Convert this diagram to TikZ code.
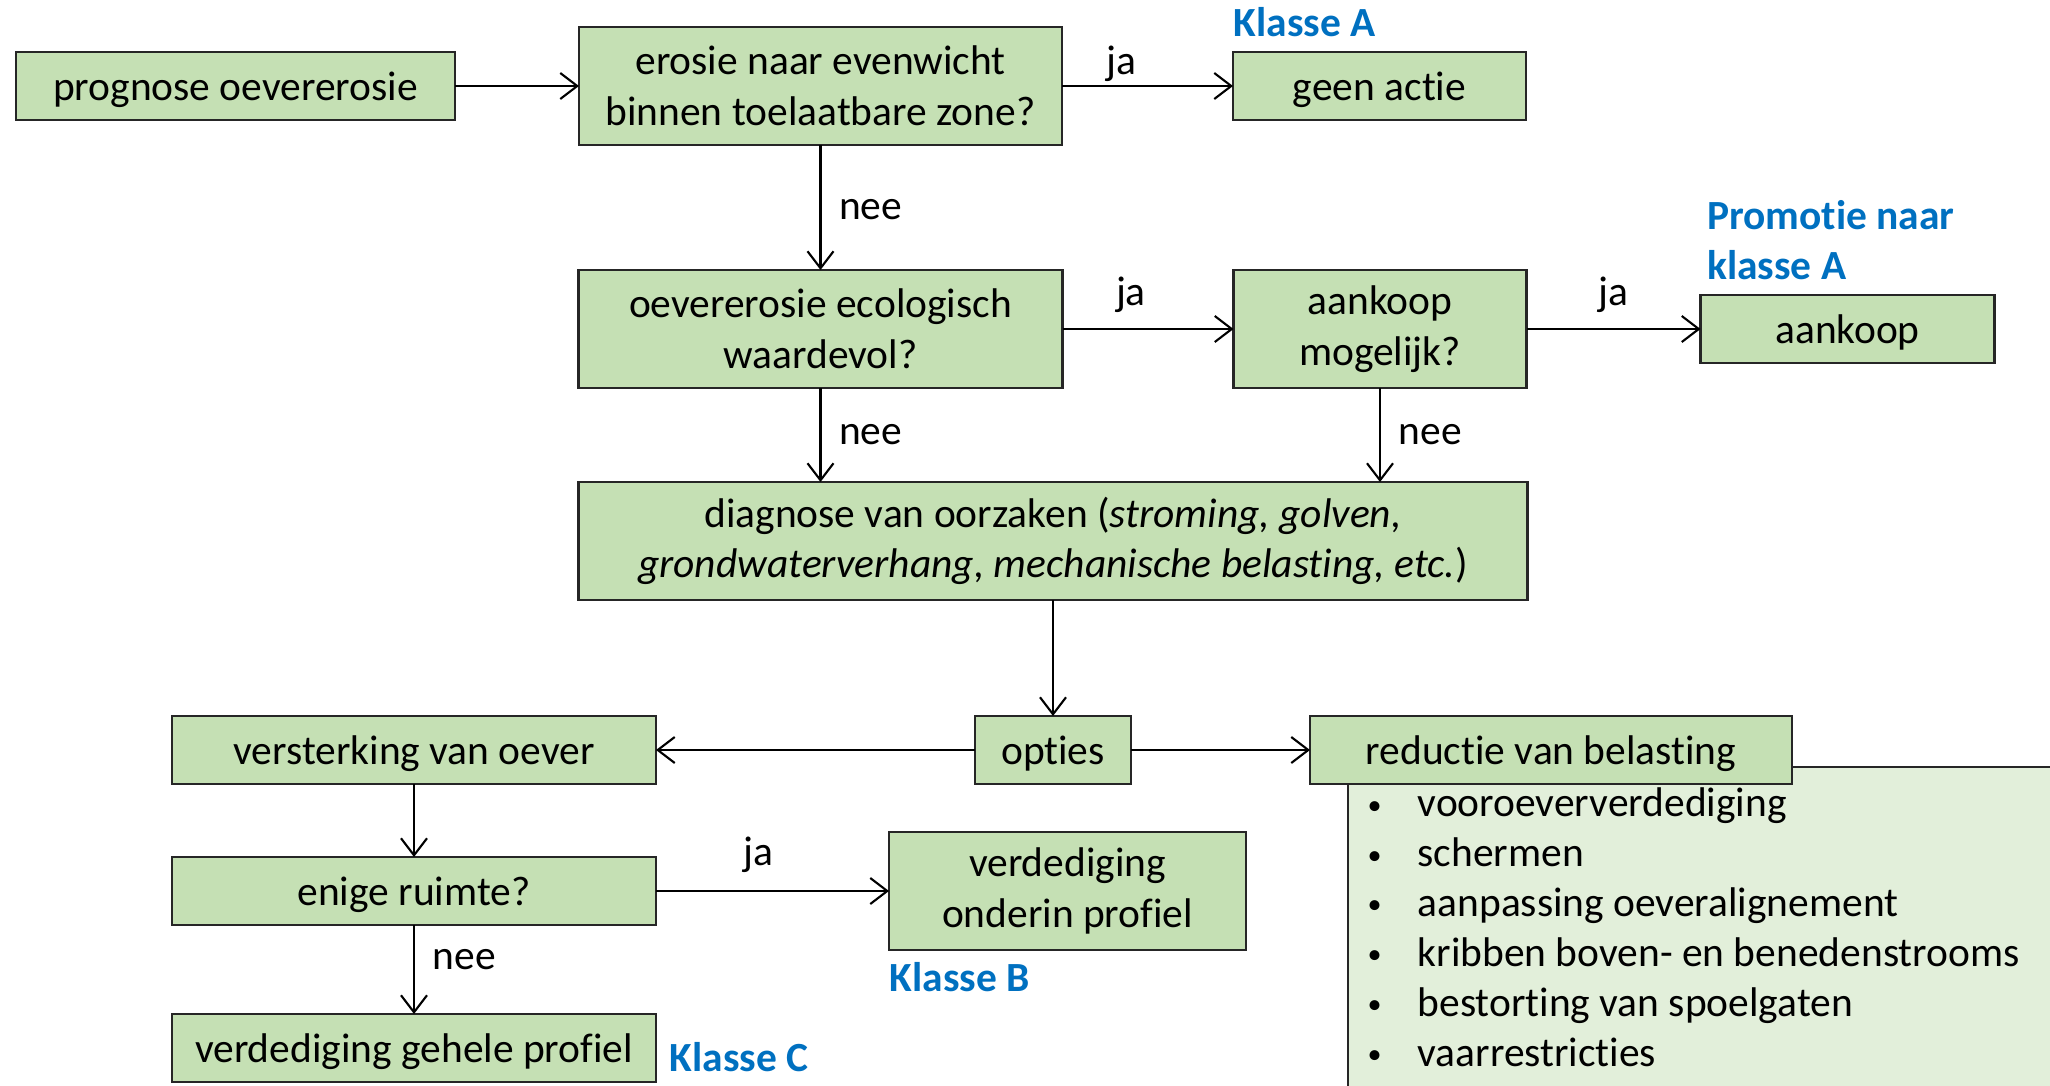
\documentclass[tikz,border=0pt]{standalone}
\usepackage{fontspec}
\setmainfont[Ligatures=NoCommon]{Carlito}
\usetikzlibrary{arrows.meta, positioning, backgrounds}
\definecolor{boxgreen}{RGB}{197, 224, 180}
\definecolor{panelgreen}{RGB}{226, 239, 218}
\definecolor{klasseblue}{RGB}{0, 112, 192}

\newcommand{\punt}[1]{\makebox[0.5cm][l]{\raisebox{0.12ex}{\footnotesize\textbullet}}#1}

\begin{document}
\begin{tikzpicture}[
    font=\fontsize{11.8}{14.4}\selectfont,
    blok/.style={
        draw=black!85, line width=0.6pt, fill=boxgreen,
        inner sep=2pt, outer sep=0pt
    },
    stap/.style={blok, minimum height=0.68cm, text height=0.92em, text depth=0.08em},
    vraag/.style={blok, minimum height=1.18cm, align=center},
    pijl/.style={-{Straight Barb[length=1.7mm, width=2.6mm]}, line width=0.6pt},
    etiket/.style={inner sep=2pt},
    klasse/.style={font=\fontsize{11.8}{14.4}\selectfont\bfseries, text=klasseblue, inner sep=0pt, align=left}
]
\useasboundingbox (0,0) rectangle (20.5,-10.85);

% top row
\node[stap, minimum width=4.39cm] (prognose) at (2.355,-0.86) {prognose oevererosie};
\node[vraag, minimum width=4.83cm, right=1.24cm of prognose] (evenwicht) {erosie naar evenwicht\\binnen toelaatbare zone?};
\node[stap, minimum width=2.93cm, right=1.71cm of evenwicht] (geen) {geen actie};

% second row
\node[vraag, minimum width=4.84cm, below=1.25cm of evenwicht] (ecologisch) {oevererosie ecologisch\\waardevol?};
\node[vraag, minimum width=2.93cm, right=1.71cm of ecologisch] (mogelijk) {aankoop\\mogelijk?};
\node[stap, minimum width=2.94cm, right=1.74cm of mogelijk] (aankoop) {aankoop};

% diagnosis
\node[vraag, minimum width=9.49cm, below=0.94cm of ecologisch.south west, anchor=north west] (diagnose)
    {diagnose van oorzaken (\textit{stroming, golven,}\\\textit{grondwaterverhang, mechanische belasting, etc.})};

% options
\node[stap, minimum width=1.56cm, below=1.16cm of diagnose] (opties) {opties};
\node[stap, minimum width=4.84cm, left=3.19cm of opties] (versterking) {versterking van oever};
\node[stap, minimum width=4.82cm, right=1.79cm of opties] (reductie) {reductie van belasting};
\node[stap, minimum width=4.84cm, below=0.73cm of versterking] (ruimte) {enige ruimte?};
\node[vraag, minimum width=3.57cm, right=2.33cm of ruimte] (onderin) {verdediging\\onderin profiel};
\node[stap, minimum width=4.84cm, below=0.89cm of ruimte] (gehele) {verdediging gehele profiel};

% list of measures
\begin{scope}[on background layer]
\fill[panelgreen] (13.48,-7.67) rectangle (20.6,-11);
\draw[line width=0.6pt, black!85] (13.48,-11) |- (20.6,-7.67);
\end{scope}
\node[anchor=north west, align=left, inner sep=0pt, font=\fontsize{11.8}{14.2}\selectfont] (maatregelen) at (13.67,-7.87) {%
    \punt{vooroeververdediging}\\
    \punt{schermen}\\
    \punt{aanpassing oeveralignement}\\
    \punt{kribben boven- en benedenstrooms}\\
    \punt{bestorting van spoelgaten}\\
    \punt{vaarrestricties}};

% class labels
\node[klasse, anchor=south west] (klasseA) at ([yshift=4pt]geen.north west) {Klasse A};
\node[klasse, anchor=south west] (promotie) at ([xshift=0.06cm, yshift=4pt]aankoop.north west) {Promotie naar\\klasse A};
\node[klasse, anchor=north west] (klasseB) at ([yshift=-0.12cm]onderin.south west) {Klasse B};
\node[klasse, anchor=base west] (klasseC) at ([xshift=0.13cm, yshift=-0.23cm]gehele.east) {Klasse C};

% arrows
\draw[pijl] (prognose) -- (evenwicht);
\draw[pijl] (evenwicht) -- node[etiket, above=-1pt, pos=0.35] {ja} (geen);
\draw[pijl] (evenwicht) -- node[etiket, right=3pt, pos=0.52] {nee} (ecologisch);
\draw[pijl] (ecologisch) -- node[etiket, above=2.5pt, pos=0.4] {ja} (mogelijk);
\draw[pijl] (mogelijk) -- node[etiket, above=2.5pt, pos=0.5] {ja} (aankoop);
\draw[pijl] (ecologisch.south) -- node[etiket, right=3pt] {nee} (ecologisch.south |- diagnose.north);
\draw[pijl] (mogelijk.south) -- node[etiket, right=3pt] {nee} (mogelijk.south |- diagnose.north);
\draw[pijl] (diagnose) -- (opties);
\draw[pijl] (opties) -- (versterking);
\draw[pijl] (opties) -- (reductie);
\draw[pijl] (versterking) -- (ruimte);
\draw[pijl] (ruimte) -- node[etiket, above=3pt, pos=0.44] {ja} (onderin);
\draw[pijl] (ruimte) -- node[etiket, right=3pt, pos=0.39] {nee} (gehele);

\end{tikzpicture}
\end{document}
